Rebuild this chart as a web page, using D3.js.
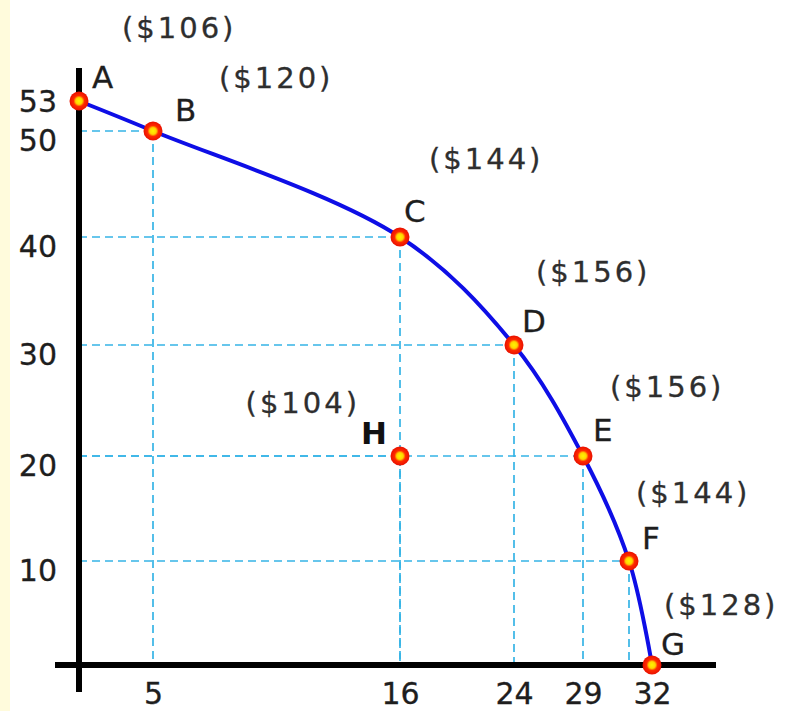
<!DOCTYPE html>
<html>
<head>
<meta charset="utf-8">
<script src="https://cdn.jsdelivr.net/npm/d3@7"></script>
<style>
  html, body { margin: 0; padding: 0; background: #ffffff; }
  svg { display: block; }
</style>
</head>
<body>
<svg id="chart" width="785" height="711"></svg>
<script>
// ---- data ----
const pointLabels = ["A", "B", "C", "D", "E", "F", "G"];
const goodX = [0, 5, 16, 24, 29, 31, 32];
const goodY = [53, 50, 40, 30, 20, 10, 0];
const prices = ["($106)", "($120)", "($144)", "($156)", "($156)", "($144)", "($128)"];
const insideLabel = "H";
const insideX = 16;
const insideY = 20;
const insidePrice = "($104)";
const xTickValues = [5, 16, 24, 29, 32];
const yTickValues = [10, 20, 30, 40, 50, 53];

// ---- layout ----
const W = 785, H = 711;
const svg = d3.select("#chart");
const font = "'DejaVu Sans', Verdana, sans-serif";

// The diagram's horizontal axis is drawn unevenly: a piecewise linear scale
const x = d3.scaleLinear()
  .domain([0, 5, 16, 24, 29, 32])
  .range([79, 153, 400, 514, 583, 652]);
const y = d3.scaleLinear()
  .domain([0, 10, 20, 30, 40, 50, 53])
  .range([665, 561, 456, 345, 237, 131, 101]);

// offsets for letters and price labels (px, relative to the point)
const letterOff = [[13, -13], [22, -10], [4, -15], [8, -13], [10, -15], [13, -12], [9, -10]];
const priceOff = [[43, -63], [66, -43], [29, -68], [22, -63], [27, -59], [7, -58], [12, -50]];

// background
svg.append("rect").attr("width", W).attr("height", H).attr("fill", "#ffffff");
svg.append("rect").attr("width", 10).attr("height", H).attr("fill", "#fffbdc");

const pts = goodX.map((d, i) => ({ x: d, y: goodY[i], label: pointLabels[i], price: prices[i], i }));
const hPt = { x: insideX, y: insideY };

// dashed guide lines
const guides = svg.append("g")
  .attr("stroke", "#36b4e6")
  .attr("stroke-width", 1.7)
  .attr("stroke-dasharray", "8,5")
  .attr("fill", "none");
pts.concat([hPt]).filter(p => p.x > 0 && p.y > 0).forEach(p => {
  guides.append("line")
    .attr("x1", x(0)).attr("x2", x(p.x))
    .attr("y1", y(p.y)).attr("y2", y(p.y));
  guides.append("line")
    .attr("x1", x(p.x)).attr("x2", x(p.x))
    .attr("y1", y(p.y)).attr("y2", y(0));
});

// axes (thick black lines)
svg.append("line")
  .attr("x1", x(0)).attr("x2", x(0))
  .attr("y1", y(53) - 33).attr("y2", y(0) + 27)
  .attr("stroke", "#000").attr("stroke-width", 6);
svg.append("line")
  .attr("x1", x(0) - 24).attr("x2", x(32) + 64)
  .attr("y1", y(0)).attr("y2", y(0))
  .attr("stroke", "#000").attr("stroke-width", 6);

// tick labels via d3 axes
const xAxis = svg.append("g")
  .attr("transform", `translate(0,${y(0)})`)
  .call(d3.axisBottom(x).tickValues(xTickValues).tickSize(0).tickPadding(18).tickFormat(d3.format("d")));
xAxis.select(".domain").remove();
xAxis.selectAll("text")
  .attr("font-family", font).attr("font-size", 30).attr("fill", "#1e1e1e")
  .attr("stroke", "#1e1e1e").attr("stroke-width", 0.3);

const yAxis = svg.append("g")
  .attr("transform", `translate(${x(0)},0)`)
  .call(d3.axisLeft(y).tickValues(yTickValues).tickSize(0).tickPadding(22).tickFormat(d3.format("d")));
yAxis.select(".domain").remove();
yAxis.selectAll("text")
  .attr("font-family", font).attr("font-size", 30).attr("fill", "#1e1e1e")
  .attr("stroke", "#1e1e1e").attr("stroke-width", 0.3)
  .attr("dy", d => d === 53 ? "0.36em" : "0.5em");
yAxis.selectAll(".tick").attr("transform", d => `translate(0,${y(d) + (d === 53 ? 0 : 5)})`);

// PPF curve
const line = d3.line()
  .x(d => x(d.x)).y(d => y(d.y))
  .curve(d3.curveCatmullRom.alpha(0.5));
svg.append("path")
  .datum(pts)
  .attr("d", line)
  .attr("fill", "none")
  .attr("stroke", "#0e0ee6")
  .attr("stroke-width", 4);

// markers
const defs = svg.append("defs");
const grad = defs.append("radialGradient").attr("id", "dot");
grad.append("stop").attr("offset", "0%").attr("stop-color", "#fff400");
grad.append("stop").attr("offset", "35%").attr("stop-color", "#ffd400");
grad.append("stop").attr("offset", "58%").attr("stop-color", "#ff2a00");
grad.append("stop").attr("offset", "100%").attr("stop-color", "#e81000");

svg.append("g").selectAll("circle")
  .data(pts.concat([hPt]))
  .join("circle")
  .attr("cx", d => x(d.x)).attr("cy", d => y(d.y))
  .attr("r", 9.5)
  .attr("fill", "url(#dot)");

// point letters
svg.append("g").selectAll("text")
  .data(pts)
  .join("text")
  .attr("x", d => x(d.x) + letterOff[d.i][0])
  .attr("y", d => y(d.y) + letterOff[d.i][1])
  .attr("font-family", font).attr("font-size", 31).attr("fill", "#1e1e1e")
  .attr("stroke", "#1e1e1e").attr("stroke-width", 0.3)
  .text(d => d.label);

svg.append("text")
  .attr("x", x(hPt.x) - 13).attr("y", y(hPt.y) - 12)
  .attr("text-anchor", "end")
  .attr("font-family", font).attr("font-size", 31).attr("font-weight", "bold").attr("fill", "#111")
  .text(insideLabel);

// price labels
svg.append("g").selectAll("text")
  .data(pts)
  .join("text")
  .attr("x", d => x(d.x) + priceOff[d.i][0])
  .attr("y", d => y(d.y) + priceOff[d.i][1])
  .attr("font-family", font).attr("font-size", 29).attr("fill", "#2e2e2e")
  .attr("stroke", "#2e2e2e").attr("stroke-width", 0.3)
  .attr("letter-spacing", 3)
  .text(d => d.price);

svg.append("text")
  .attr("x", x(hPt.x) - 40).attr("y", y(hPt.y) - 43)
  .attr("text-anchor", "end")
  .attr("font-family", font).attr("font-size", 29).attr("fill", "#2e2e2e")
  .attr("stroke", "#2e2e2e").attr("stroke-width", 0.3)
  .attr("letter-spacing", 3)
  .text(insidePrice);
</script>
</body>
</html>
